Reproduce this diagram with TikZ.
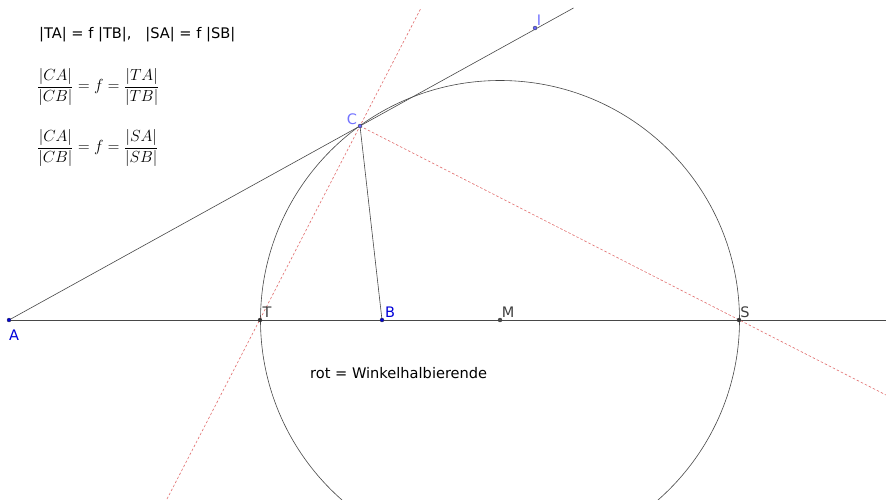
\documentclass[tikz,border=0pt]{standalone}
\usepackage{fontspec}
\newfontfamily\gfont{DejaVu Sans}
\definecolor{bisred}{RGB}{226,110,110}
\begin{document}
\begin{tikzpicture}[x=1pt,y=-1pt,
  seg/.style={draw=black!72, line width=0.6pt},
  bis/.style={draw=bisred, line width=0.6pt, dash pattern=on 2.5pt off 2pt},
  pt/.style={circle, fill=#1, draw=black!80, line width=0.3pt, inner sep=0pt, minimum size=4pt},
  lab/.style={font=\gfont\fontsize{14.5}{16}\selectfont, inner sep=0pt, text=#1},
  txt/.style={font=\gfont\fontsize{14.6}{16}\selectfont, inner sep=0pt, anchor=base west},
  frm/.style={font=\fontsize{17}{20}\selectfont, inner sep=0pt, anchor=west}]
\useasboundingbox (0,0) rectangle (886,499);
\clip (0,0) rectangle (886,499);
\fill[white] (0,0) rectangle (886,499);
% coordinates
\coordinate (A) at (9,320);
\coordinate (T) at (260,320);
\coordinate (B) at (382,320);
\coordinate (M) at (500,320);
\coordinate (S) at (739,320);
\coordinate (C) at (360,126);
\coordinate (I) at (535,28);
\coordinate (Iend) at (573.5,8);
\coordinate (Hend) at (886,320);
\coordinate (Rt) at (421,8);
\coordinate (Rb) at (167,499);
\coordinate (Rs) at (886,395);
% circle
\draw[seg] (M) circle[radius=239.5pt];
% lines
\draw[seg] (A) -- (Hend);
\draw[seg] (A) -- (Iend);
\draw[seg] (C) -- (B);
\draw[bis] (Rb) -- (Rt);
\draw[bis] (C) -- (Rs);
% points
\node[pt=blue!85!black] (pA) at (A) {};
\node[pt=black!80] (pT) at (T) {};
\node[pt=blue!85!black] (pB) at (B) {};
\node[pt=black!70] (pM) at (M) {};
\node[pt=black!80] (pS) at (S) {};
\node[pt=blue!60!white] (pC) at (C) {};
\node[pt=blue!60!white] (pI) at (I) {};
% labels
\node[lab=blue!85!black] (lA) at (14,335) {A};
\node[lab=black!75] (lT) at (267,312) {T};
\node[lab=blue!85!black] (lB) at (390,312) {B};
\node[lab=black!75] (lM) at (508,312) {M};
\node[lab=black!75] (lS) at (745,312) {S};
\node[lab=blue!55!white] (lC) at (352,119) {C};
\node[lab=blue!55!white] (lI) at (539,20) {I};
% texts
\node[txt] (t1) at (39,38) {|TA| = f |TB|,\ \ \ |SA| = f |SB|};
\node[frm] (f1) at (37,87) {\scalebox{0.93}{$\displaystyle\frac{|CA|}{|CB|}=f=\frac{|TA|}{|TB|}$}};
\node[frm] (f2) at (37,148) {\scalebox{0.93}{$\displaystyle\frac{|CA|}{|CB|}=f=\frac{|SA|}{|SB|}$}};
\node[txt] (t2) at (310,378) {rot = Winkelhalbierende};
\end{tikzpicture}
\end{document}
